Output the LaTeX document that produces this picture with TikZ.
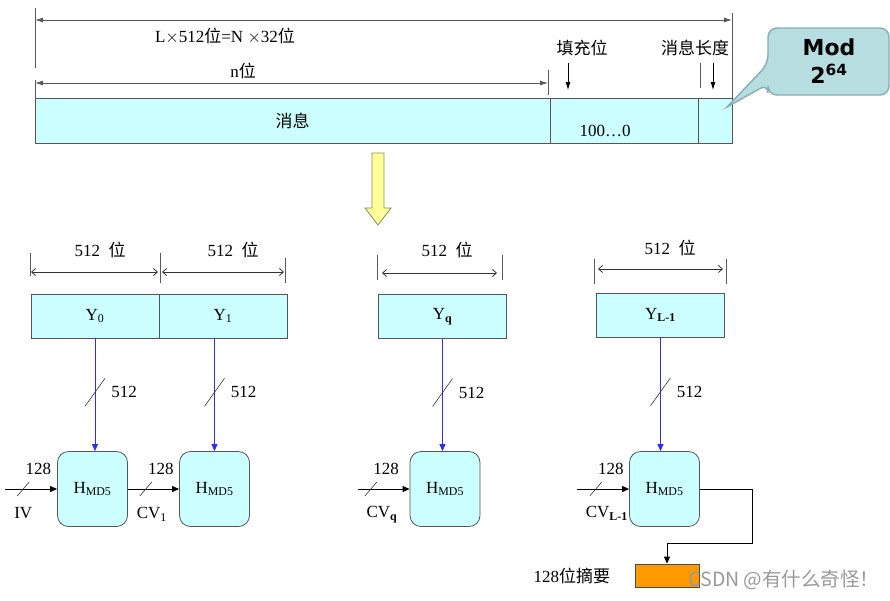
\documentclass[tikz,border=0pt]{standalone}
\usepackage{fontspec}
\setmainfont{Liberation Serif}
\newfontfamily\cjk{Noto Sans CJK SC}
\newfontfamily\modfont{DejaVu Sans}
\usetikzlibrary{positioning,arrows.meta}
\newcommand\zh[1]{{\cjk #1}}
\definecolor{boxcyan}{HTML}{CCFFFF}
\definecolor{boxline}{HTML}{555555}
\definecolor{busblue}{HTML}{2E2EF0}
\definecolor{modfill}{HTML}{B6DDE0}
\definecolor{modline}{HTML}{86AEB2}
\definecolor{arrowyellow}{HTML}{FFFF99}
\definecolor{arrowline}{HTML}{8C8C5A}
\definecolor{digest}{HTML}{FF9900}
\begin{document}
\begin{tikzpicture}[x=1pt,y=-1pt,line width=0.8pt,
  font=\fontsize{17}{19}\selectfont,
  cell/.style={draw=boxline,fill=boxcyan,inner sep=0pt,outer sep=0pt,minimum height=45pt},
  seg node/.style={cell,minimum width=128pt,minimum height=44pt},
  hash node/.style={draw=boxline,fill=boxcyan,rounded corners=11pt,minimum width=70pt,minimum height=75pt,inner sep=0pt},
  lbl/.style={inner sep=1pt},
  dim/.style={draw=black!65,{Latex[length=8pt,width=5pt]}-{Latex[length=8pt,width=5pt]}},
  bitdim/.style={draw=black!80,{Straight Barb[length=4pt,width=7pt]}-{Straight Barb[length=4pt,width=7pt]}},
  tick/.style={draw=black!65},
  down/.style={draw=black,-{Latex[length=8pt,width=5pt]}},
  bus/.style={draw=busblue,-{Triangle[length=7pt,width=6pt]}},
  chain/.style={draw=black,-{Triangle[length=7pt,width=6pt]}},
  slash/.style={draw=black!80,line width=0.6pt}]

  \useasboundingbox (0,0) rectangle (890,600);

  % message layout
  \node[cell,minimum width=515pt,anchor=north west] (msg) at (35,98) {\zh{消息}};
  \node[cell,minimum width=148pt,right=0pt of msg] (pad) {};
  \node[cell,minimum width=34pt,right=0pt of pad] (len) {};
  \node[lbl] (padtxt) at ([xshift=-19pt,yshift=-10pt]pad.center) {100…0};

  \coordinate (totl) at (35,20);
  \coordinate (totr) at (732,20);
  \coordinate (nl) at (35,83);
  \coordinate (nr) at (548,83);
  \path[dim] (totl) -- (totr);
  \path[dim] (nl) -- (nr);
  \node[lbl] (total) at (225,36) {L$\times$512\zh{位}=N $\times$32\zh{位}};
  \node[lbl] (nbits) at (243,71) {n\zh{位}};
  \path[tick] (35,8) -- (35,68) (35,80) -- (msg.north west)
    (548,70) -- (548,95) (732,13) -- (len.north east) (700,63) -- (700,88);

  \node[lbl] (padlbl) at (582,48) {\zh{填充位}};
  \node[lbl] (lenlbl) at (695,48) {\zh{消息长度}};
  \coordinate (padtip) at (568,90);
  \coordinate (lentip) at (713,90);
  \path[down] (padtip |- 0,63) -- (padtip);
  \path[down] (lentip |- 0,63) -- (lentip);

  \path[fill=modfill,draw=modline,line width=1.4pt,rounded corners=9pt]
    (768,28) -- (889,28) -- (889,95) -- (768,95) -- (768,84)
    [sharp corners] -- (727,107) [rounded corners=9pt] -- (768,64) -- cycle;
  \node[font=\modfont\bfseries\fontsize{22}{28}\selectfont,align=center] (mod)
    at (829,61) {Mod\\2\textsuperscript{64}};

  \path[fill=arrowyellow,draw=arrowline] (372,153) -- (384,153) -- (384,208)
    -- (391,208) -- (378,225) -- (365,208) -- (372,208) -- cycle;

  % blocks
  \node[seg node] (y0) at (95,316) {Y\textsubscript{0}};
  \node[seg node,right=0pt of y0] (y1) {Y\textsubscript{1}};
  \node[seg node] (yq) at (442.5,316.5) {Y\textsubscript{\textbf{q}}};
  \node[seg node] (yL) at (660.5,315) {Y\textsubscript{\textbf{L-1}}};

  \path[tick] (30,253) -- (30,276) (160,253) -- (160,283) (285,258) -- (285,283)
    (377,255) -- (377,280) (502,255) -- (502,280)
    (594,259) -- (594,284) (726,259) -- (726,284);
  \path[bitdim] (31,272) -- (158,272);
  \path[bitdim] (162,272) -- (284,272);
  \path[bitdim] (382,273) -- (497,273);
  \path[bitdim] (598,269) -- (723,269);
  \node[lbl] (w0) at (100,250) {512\ \ \zh{位}};
  \node[lbl] (w1) at (233,250) {512\ \ \zh{位}};
  \node[lbl] (wq) at (447,250) {512\ \ \zh{位}};
  \node[lbl] (wL) at (670,248) {512\ \ \zh{位}};

  \node[hash node] (h0) at (92.5,489) {H\textsubscript{MD5}};
  \node[hash node] (h1) at (214.5,489) {H\textsubscript{MD5}};
  \node[hash node] (hq) at (445,489) {H\textsubscript{MD5}};
  \node[hash node] (hL) at (664.5,489) {H\textsubscript{MD5}};

  \draw[bus] (y0.south) -- coordinate[pos=.48] (b0) (y0.south |- h0.north);
  \draw[bus] (h1.north |- y1.south) -- coordinate[pos=.48] (b1) (h1.north);
  \draw[bus] (yq.south) -- coordinate[pos=.48] (bq) (yq.south |- hq.north);
  \draw[bus] (yL.south) -- coordinate[pos=.48] (bL) (yL.south |- hL.north);
  \foreach \b in {b0,b1,bq,bL}{
    \path[slash] (\b) +(-10,14) -- +(10,-14);
    \node[lbl,right=15pt of \b] (n\b) {512};
  }

  \coordinate (iv) at (5,489);
  \coordinate (cvqin) at (358,489);
  \coordinate (cvLin) at (577,489);
  \draw[chain] (iv) -- coordinate[pos=.35] (c0) (h0);
  \draw[chain] (h0) -- coordinate[pos=.35] (c1) (h1);
  \draw[chain] (cvqin) -- coordinate[pos=.25] (cq) (hq);
  \draw[chain] (cvLin) -- coordinate[pos=.36] (cL) (hL);
  \foreach \c in {c0,c1,cq,cL}{
    \path[slash] (\c) +(-6,7) -- +(6,-7);
    \node[lbl,above right=13pt and 1pt of \c] (k\c) {128};
  }
  \node[lbl,below=17pt of c0] (ivlbl) {IV};
  \node[lbl,below=17pt of c1,xshift=6pt] (cv1lbl) {CV\textsubscript{1}};
  \node[lbl,below=16pt of cq,xshift=11pt] (cvqlbl) {CV\textsubscript{\textbf{q}}};
  \node[lbl,below=16pt of cL,xshift=11pt] (cvLlbl) {CV\textsubscript{\textbf{L-1}}};

  % digest
  \node[draw=black!70,fill=digest,minimum width=64pt,minimum height=23pt,inner sep=0pt] (dig) at (667,575.5) {};
  \node[lbl,left=23pt of dig] (diglbl) {128\zh{位摘要}};
  \coordinate (turn) at (752,543);
  \draw[chain] (hL.east) -| (turn) -- (turn -| dig.north) -- (dig.north);

  \node[text=black!40,font=\cjk\fontsize{19.5}{21}\selectfont] (mark) at (784,580) {CSDN @有什么奇怪！};
\end{tikzpicture}
\end{document}
